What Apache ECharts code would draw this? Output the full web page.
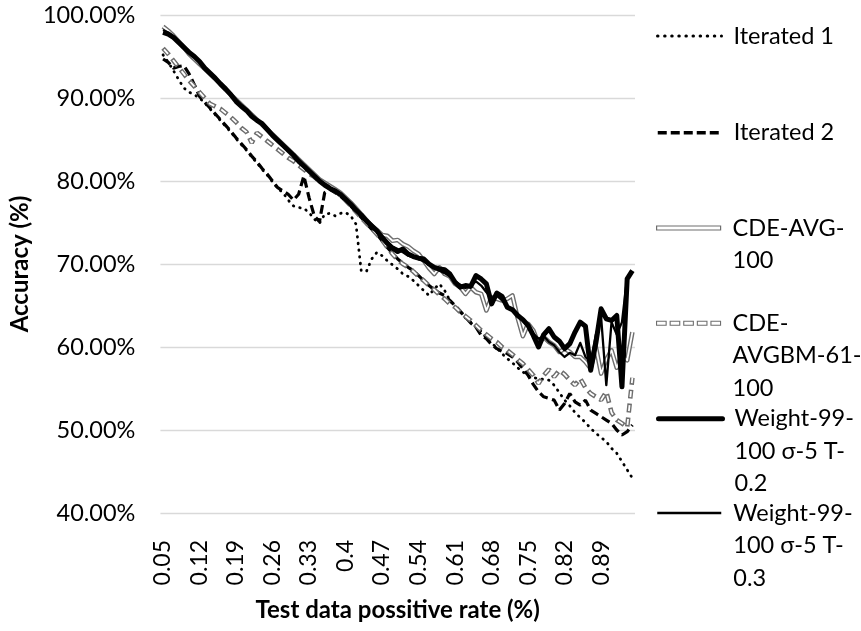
<!DOCTYPE html>
<html>
<head>
<meta charset="utf-8">
<title>Accuracy vs test data positive rate</title>
<script src="https://cdn.jsdelivr.net/npm/echarts@6/dist/echarts.min.js"></script>
<style>
html,body{margin:0;padding:0;background:#fff;}
#chart{width:861px;height:631px;}
</style>
</head>
<body>
<div id="chart"></div>
<script>
// x categories: test data positive rate
var rates = ['0.05','0.06','0.07','0.08','0.09','0.1','0.11','0.12','0.13','0.14',
  '0.15','0.16','0.17','0.18','0.19','0.2','0.21','0.22','0.23','0.24',
  '0.25','0.26','0.27','0.28','0.29','0.3','0.31','0.32','0.33','0.34',
  '0.35','0.36','0.37','0.38','0.39','0.4','0.41','0.42','0.43','0.44',
  '0.45','0.46','0.47','0.48','0.49','0.5','0.51','0.52','0.53','0.54',
  '0.55','0.56','0.57','0.58','0.59','0.6','0.61','0.62','0.63','0.64',
  '0.65','0.66','0.67','0.68','0.69','0.7','0.71','0.72','0.73','0.74',
  '0.75','0.76','0.77','0.78','0.79','0.8','0.81','0.82','0.83','0.84',
  '0.85','0.86','0.87','0.88','0.89','0.9','0.91','0.92','0.93','0.94','0.95'];

// accuracy (%) per series
var iterated1 = [95.2,94.3,93.3,92.2,91.2,90.7,90.4,90.0,89.4,88.7,
  88.0,87.3,86.6,85.9,85.1,84.4,83.7,82.9,82.2,81.4,
  80.7,79.9,79.1,78.6,77.7,77.0,76.8,76.7,76.2,75.4,
  74.9,76.0,76.1,75.8,76.1,76.2,75.8,74.8,69.2,69.1,
  70.6,71.4,71.0,70.4,69.9,69.4,68.8,68.5,68.0,67.4,
  66.8,66.2,67.0,67.6,66.8,65.6,64.9,64.2,63.5,63.0,
  62.4,61.9,61.1,60.5,59.9,59.2,58.6,58.1,57.5,57.0,
  56.5,56.3,56.2,56.1,56.0,55.4,54.5,53.6,52.9,52.1,
  51.5,50.9,50.2,49.6,49.1,48.6,47.8,47.2,46.2,45.2,44.2];

var iterated2 = [94.7,94.3,93.6,93.8,93.9,92.9,91.6,90.2,89.5,88.8,
  88.1,87.4,86.7,86.0,85.2,84.5,83.8,83.0,82.3,81.5,
  80.8,80.0,79.2,78.8,78.4,77.7,78.4,80.6,78.0,75.8,
  75.1,78.6,79.0,78.6,78.2,77.6,77.0,76.3,75.6,74.9,
  74.2,73.6,72.8,72.0,71.3,70.6,70.1,69.6,69.2,68.6,
  68.0,67.4,66.9,66.5,66.2,65.6,65.0,64.3,63.6,62.9,
  62.4,61.4,61.0,60.3,59.8,59.5,59.2,58.8,58.2,57.4,
  56.6,55.5,54.6,54.0,53.8,53.6,52.4,53.2,54.4,53.4,
  53.0,53.6,52.4,52.0,51.6,51.2,50.8,50.0,49.4,49.8,50.6];

var cdeAvg = [98.6,98.1,97.5,96.8,96.1,95.3,94.7,94.1,93.5,92.9,
  92.3,91.7,91.0,90.4,89.8,89.2,88.6,88.0,87.4,86.8,
  86.2,85.6,85.0,84.4,83.8,83.2,82.6,82.0,81.4,80.8,
  80.2,79.8,79.4,79.0,78.6,78.0,77.4,76.7,76.0,75.3,
  74.6,74.1,73.5,73.4,72.8,72.9,72.4,72.1,71.6,71.2,
  70.4,69.5,68.8,69.6,68.8,68.5,67.6,67.2,66.4,67.2,
  66.6,66.4,64.4,66.0,65.8,65.6,65.8,66.2,63.5,61.3,
  62.8,62.0,60.4,61.2,60.6,60.2,59.4,59.8,59.4,58.8,
  58.8,58.2,57.4,60.0,56.8,58.5,59.6,57.5,59.0,58.4,61.8];

var cdeAvgbm = [96.0,95.3,94.5,93.7,92.9,92.1,91.4,90.7,90.0,89.3,
  89.0,88.7,88.2,87.7,87.1,86.4,85.9,84.6,85.8,85.3,
  84.8,84.3,83.8,83.3,82.8,82.4,81.9,81.4,80.9,80.5,
  80.0,79.6,79.2,78.8,78.3,77.7,77.0,76.3,75.6,74.9,
  74.3,73.6,72.9,72.0,71.2,70.5,70.0,69.6,69.1,68.5,
  68.0,67.4,66.9,66.3,65.8,65.2,64.8,64.2,63.7,63.2,
  62.6,62.0,61.5,61.0,60.6,60.0,59.6,59.1,58.5,58.0,
  57.3,56.6,55.6,56.6,57.3,56.4,57.2,56.7,56.0,55.4,
  56.2,55.1,54.4,54.0,53.6,54.6,52.1,51.2,50.8,50.3,56.3];

var weightT02 = [97.9,97.7,97.3,96.7,96.1,95.5,95.0,94.4,93.6,93.0,
  92.4,91.7,91.1,90.4,89.6,89.0,88.5,87.8,87.3,86.9,
  86.2,85.5,84.9,84.3,83.7,83.1,82.4,81.8,81.2,80.6,
  80.0,79.5,79.1,78.8,78.4,77.8,77.2,76.5,75.9,75.2,
  74.6,74.0,73.2,72.5,71.9,71.5,71.8,71.2,70.9,70.7,
  70.6,70.0,69.6,69.4,69.3,68.8,67.8,67.2,67.4,67.3,
  68.6,68.2,67.6,65.2,66.5,66.1,64.8,64.5,63.8,63.3,
  62.6,61.4,60.0,61.5,62.2,61.2,60.7,59.8,60.4,61.8,
  63.0,62.5,57.2,60.5,64.6,63.4,63.2,63.8,55.2,68.2,69.2];

var weightT03 = [98.2,97.9,97.4,96.8,96.2,95.6,95.0,94.4,93.7,93.1,
  92.5,91.8,91.2,90.5,89.8,89.1,88.5,87.9,87.4,86.9,
  86.3,85.6,85.0,84.4,83.8,83.2,82.5,81.9,81.3,80.7,
  80.1,79.6,79.2,78.9,78.5,77.9,77.3,76.6,76.0,75.3,
  74.7,74.1,73.4,72.7,72.1,71.8,71.4,71.0,70.8,70.6,
  70.3,69.9,69.5,69.2,68.9,68.5,67.9,67.5,67.1,67.4,
  67.9,67.4,66.6,65.9,66.2,65.6,65.0,64.4,63.9,63.2,
  62.4,61.6,61.0,61.3,60.6,60.2,59.4,58.8,59.3,59.0,
  60.5,58.8,58.2,61.5,63.6,55.4,63.0,61.5,63.0,68.4,69.0];

var seriesNames = ['Iterated 1','Iterated 2','CDE-AVG-100','CDE-AVGBM-61-100',
  'Weight-99-100 σ-5 T-0.2','Weight-99-100 σ-5 T-0.3'];
// legend text as wrapped in the original
var legendLines = [['Iterated 1'],['Iterated 2'],['CDE-AVG-','100'],['CDE-','AVGBM-61-','100'],
  ['Weight-99-','100 σ-5 T-','0.2'],['Weight-99-','100 σ-5 T-','0.3']];

var FONT = 'Lato, "Open Sans", sans-serif';
var LH = 32.5;
var GRAY = '#6e6e6e';

var chart = echarts.init(document.getElementById('chart'), null, {renderer:'canvas'});

// one legend per entry; blank lines on top keep the sample line on the first text line
function oneLegend(idx, centerY, extra){
  var lines = legendLines[idx];
  var n = lines.length;
  var pad = [];
  for (var i = 1; i < n; i++) pad.push(' ');
  var text = pad.concat(lines).join('\n');
  var lg = {
    orient:'vertical',
    left:656,
    top:centerY - (2 * n - 1) * LH / 2,
    padding:0,
    itemWidth:64,
    itemHeight:14,
    selectedMode:false,
    data:[{name:seriesNames[idx]}],
    formatter:function(){ return text; },
    textStyle:{fontFamily:FONT,fontSize:23.5,color:'#000',lineHeight:LH,padding:[0,0,0,7]},
    itemStyle:{color:'transparent',borderWidth:0}
  };
  for (var k in extra) lg[k] = extra[k];
  return lg;
}

var line = function(name, data, style){
  return {name:name, type:'line', data:data, symbol:'none', showSymbol:false,
    lineStyle:style, animation:false, silent:true};
};

var option = {
  animation:false,
  grid:{left:132,right:226,top:15,bottom:118},
  xAxis:{
    type:'category',
    data:rates,
    boundaryGap:true,
    axisLine:{show:false},
    axisTick:{show:false},
    axisLabel:{interval:6,rotate:90,margin:27,fontFamily:FONT,fontSize:23,color:'#000'},
    splitLine:{show:false},
    name:'Test data possitive rate (%)',
    nameLocation:'middle',
    nameGap:85,
    nameTextStyle:{fontFamily:FONT,fontSize:24,fontWeight:'bold',color:'#000'}
  },
  yAxis:{
    type:'value',
    min:40,
    max:100,
    interval:10,
    axisLine:{show:false},
    axisTick:{show:false},
    axisLabel:{margin:25,fontFamily:FONT,fontSize:23.5,color:'#000',
      formatter:function(v){ return v.toFixed(2) + '%'; }},
    splitLine:{lineStyle:{color:'#d9d9d9',width:1.3}},
    name:'Accuracy (%)',
    nameLocation:'middle',
    nameGap:101,
    nameTextStyle:{fontFamily:FONT,fontSize:24,fontWeight:'bold',color:'#000'}
  },
  legend:[
    oneLegend(0, 36, {lineStyle:{width:3,type:[0.5,6.6],cap:'round'}}),
    oneLegend(1, 132.7, {lineStyle:{width:3.5,type:[9,4]}}),
    oneLegend(2, 228, {icon:'rect',itemHeight:4,
      itemStyle:{color:'#fff',borderColor:GRAY,borderWidth:1.2}}),
    oneLegend(3, 323.3, {icon:'path://M0 0H9.6V4H0Z M13.6 0H23.2V4H13.6Z M27.2 0H36.8V4H27.2Z M40.8 0H50.4V4H40.8Z M54.4 0H64V4H54.4Z',
      itemHeight:4.5, itemStyle:{color:'#fff',borderColor:GRAY,borderWidth:1.1}}),
    oneLegend(4, 418.7, {lineStyle:{width:5,cap:'round'}}),
    oneLegend(5, 513, {lineStyle:{width:2.5}})
  ],
  series:[
    line(seriesNames[0], iterated1, {color:'#000',width:2.8,type:[0.5,6.2],cap:'round'}),
    line(seriesNames[1], iterated2, {color:'#000',width:3.2,type:[9,4.5]}),
    line(seriesNames[2], cdeAvg, {color:GRAY,width:4.6,join:'round'}),
    line('cde-avg-core', cdeAvg, {color:'#fff',width:1.8,join:'round'}),
    line(seriesNames[3], cdeAvgbm, {color:GRAY,width:4.6,type:[9,5]}),
    line('cde-avgbm-core', cdeAvgbm, {color:'#fff',width:1.8,type:[6,8],dashOffset:-1.5}),
    line(seriesNames[4], weightT02, {color:'#000',width:5,join:'round'}),
    line(seriesNames[5], weightT03, {color:'#000',width:2.3,join:'round'})
  ]
};

chart.setOption(option);
</script>
</body>
</html>
